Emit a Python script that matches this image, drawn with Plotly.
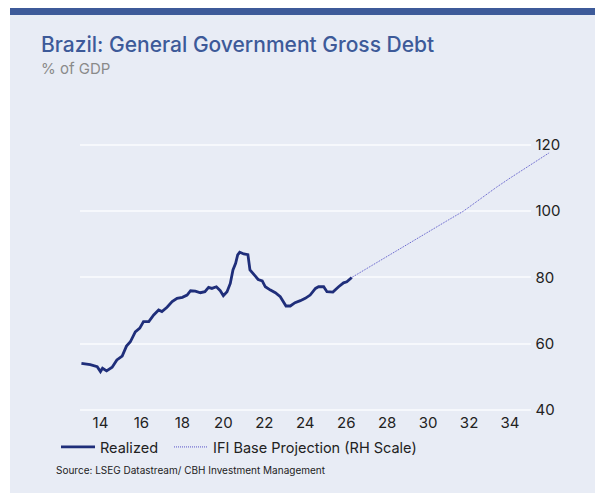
import plotly.graph_objects as go

# ---- data ----
realized_years = [13.07, 13.5, 13.84, 14.0, 14.1, 14.3, 14.57, 14.8, 15.06, 15.27, 15.46, 15.7, 15.92,
                  16.1, 16.36, 16.6, 16.84, 17.0, 17.25, 17.5, 17.74, 18.0, 18.23, 18.4, 18.63, 18.88,
                  19.1, 19.28, 19.44, 19.66, 19.85, 20.0, 20.18, 20.34, 20.47, 20.6, 20.7, 20.8, 21.0,
                  21.2, 21.3, 21.5, 21.7, 21.9, 22.05, 22.3, 22.54, 22.78, 22.94, 23.06, 23.27, 23.5,
                  23.76, 24.0, 24.24, 24.5, 24.65, 24.9, 25.06, 25.35, 25.63, 25.87, 26.03, 26.27]
realized_values = [54.1, 53.7, 53.1, 51.6, 52.6, 51.8, 52.9, 55.1, 56.3, 59.3, 60.6, 63.6, 64.7,
                   66.7, 66.7, 68.7, 70.2, 69.7, 71.0, 72.7, 73.7, 74.0, 74.7, 76.0, 75.9, 75.4,
                   75.7, 77.0, 76.7, 77.2, 76.0, 74.5, 75.7, 78.2, 82.3, 84.3, 86.8, 87.6, 87.1,
                   86.9, 82.3, 80.8, 79.4, 79.0, 77.2, 76.2, 75.4, 74.2, 72.7, 71.4, 71.4, 72.4,
                   73.0, 73.7, 74.7, 76.7, 77.2, 77.2, 75.7, 75.6, 77.2, 78.4, 78.7, 80.0]

proj_years = [26.27, 27.0, 28.0, 29.0, 30.1, 31.0, 31.72, 32.5, 33.33, 34.0, 35.0, 35.93]
proj_values = [80.0, 82.7, 86.3, 90.2, 94.3, 97.4, 100.0, 103.6, 107.2, 110.0, 114.0, 117.7]

x_ticks = [14, 16, 18, 20, 22, 24, 26, 28, 30, 32, 34]
x_ticktext = [str(v) for v in x_ticks]
y_ticks = [40, 60, 80, 100, 120]

# ---- geometry (pixels) ----
W, H = 595, 493
PX_PER_UNIT = 3.3125          # vertical pixels per % point
Y40_PX = 410                  # pixel row of the 40 line
Y_LO, Y_HI = 39.4, 121.5
L, R = 80, 40
T = round(Y40_PX - (Y_HI - 40) * PX_PER_UNIT)
B = round(H - (Y40_PX + (40 - Y_LO) * PX_PER_UNIT))
PW, PH = W - L - R, H - T - B
main_right_px = 530.5
px_per_year = (main_right_px - L) / (35 - 13)


def px_x(p):
    return (p - L) / PW


def px_y(p):
    return (H - B - p) / PH


BLUE = "#3D5A99"
PANEL = "#E8ECF5"
NAVY = "#1F2E7A"
PROJ = "#5552C8"
FONT = "Inter"

fig = go.Figure()

fig.add_trace(go.Scatter(
    x=realized_years, y=realized_values, mode="lines", name="Realized",
    line=dict(color=NAVY, width=2.8), xaxis="x", yaxis="y", legendwidth=64))

fig.add_trace(go.Scatter(
    x=proj_years, y=proj_values, mode="lines", name="IFI Base Projection (RH Scale)",
    line=dict(color=PROJ, width=1, dash="1px,1px"), xaxis="x2", yaxis="y2"))

fig.update_layout(
    width=W, height=H,
    margin=dict(l=L, r=R, t=T, b=B),
    paper_bgcolor="white",
    plot_bgcolor="rgba(0,0,0,0)",
    font=dict(family=FONT, color="#222222"),
    xaxis=dict(domain=[0, (main_right_px - L) / PW], range=[13, 35], anchor="y",
               tickvals=x_ticks, ticktext=x_ticktext, showgrid=False, zeroline=False,
               showline=False, ticks="", tickfont=dict(size=15, color="#222222")),
    yaxis=dict(domain=[0, 1], range=[Y_LO, Y_HI], anchor="x", side="right",
               tickvals=y_ticks, showgrid=True, gridcolor="#F6F8FC", gridwidth=1.5,
               zeroline=False, showline=False, ticks="", ticklabelstandoff=4,
               tickfont=dict(size=15, color="#222222")),
    xaxis2=dict(domain=[0, 1], range=[13, 13 + PW / px_per_year], anchor="y2", visible=False),
    yaxis2=dict(domain=[0, 1], range=[Y_LO, Y_HI], anchor="x2", visible=False),
    showlegend=True,
    legend=dict(orientation="h", x=px_x(56), y=px_y(431), xanchor="left", yanchor="top",
                font=dict(size=14.5, color="#222222"), bgcolor="rgba(0,0,0,0)",
                itemwidth=34, tracegroupgap=0),
    shapes=[
        dict(type="rect", xref="paper", yref="paper", x0=px_x(10), x1=px_x(W + 2),
             y0=px_y(H + 2), y1=px_y(15), fillcolor=PANEL, line=dict(width=0), layer="below"),
        dict(type="rect", xref="paper", yref="paper", x0=px_x(10), x1=px_x(W + 2),
             y0=px_y(15), y1=px_y(8), fillcolor=BLUE, line=dict(width=0), layer="below"),
    ],
    annotations=[
        dict(text="Brazil: General Government Gross Debt", xref="paper", yref="paper",
             x=px_x(39), y=px_y(45), xanchor="left", yanchor="middle", showarrow=False,
             font=dict(size=21, color=BLUE, family=FONT, weight=500)),
        dict(text="% of GDP", xref="paper", yref="paper",
             x=px_x(39), y=px_y(68), xanchor="left", yanchor="middle", showarrow=False,
             font=dict(size=15, color="#8A8A8A", family=FONT)),
        dict(text="Source: LSEG Datastream/ CBH Investment Management", xref="paper", yref="paper",
             x=px_x(54), y=px_y(470), xanchor="left", yanchor="middle", showarrow=False,
             font=dict(size=10, color="#222222", family=FONT)),
    ],
)

fig.write_html("out.html")
